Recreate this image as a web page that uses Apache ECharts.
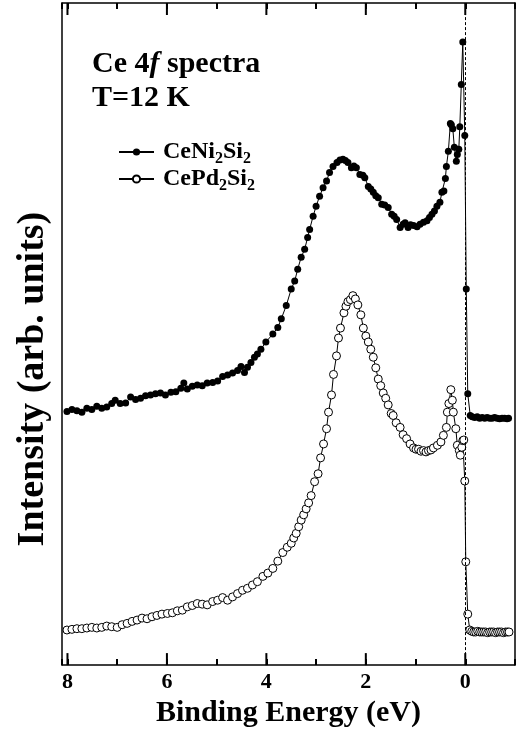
<!DOCTYPE html>
<html lang="en">
<head>
  <meta charset="UTF-8">
  <title>Ce 4f spectra</title>
  <script src="https://cdn.jsdelivr.net/npm/echarts@6/dist/echarts.min.js"></script>
  <style>
    body { margin: 0; background: #fff; }
  </style>
</head>
<body>
  <div id="chart" style="width: 519px;height: 733px;"></div>
  <script>
    const myChart = echarts.init(document.getElementById('chart'))

    // binding energy (eV) and intensity (arb. units)
    const niEnergy = [
      8.01, 7.91, 7.81, 7.71, 7.61, 7.51, 7.41, 7.31, 7.21, 7.11,
      7.04, 6.94, 6.83, 6.73, 6.63, 6.53, 6.43, 6.33, 6.23, 6.13,
      6.03, 5.92, 5.82, 5.72, 5.66, 5.59, 5.49, 5.39, 5.29, 5.19,
      5.08, 4.98, 4.88, 4.78, 4.68, 4.58, 4.51, 4.44, 4.38, 4.31,
      4.24, 4.18, 4.11, 4.01, 3.87, 3.77, 3.70, 3.60, 3.50, 3.43,
      3.37, 3.30, 3.23, 3.17, 3.13, 3.06, 3.00, 2.93, 2.86, 2.79,
      2.73, 2.66, 2.58, 2.52, 2.46, 2.41, 2.36, 2.29, 2.24, 2.19,
      2.12, 2.06, 2.02, 1.95, 1.90, 1.85, 1.80, 1.75, 1.68, 1.62,
      1.55, 1.48, 1.43, 1.38, 1.31, 1.25, 1.21, 1.15, 1.10, 1.04,
      0.97, 0.91, 0.84, 0.77, 0.72, 0.67, 0.62, 0.57, 0.51, 0.47,
      0.43, 0.40, 0.38, 0.34, 0.30, 0.28, 0.25, 0.22, 0.18, 0.16,
      0.13, 0.11, 0.08, 0.05, 0.01, -0.02, -0.05, -0.10, -0.14, -0.19,
      -0.24, -0.29, -0.34, -0.39, -0.44, -0.49, -0.54, -0.59, -0.64, -0.69,
      -0.74, -0.79, -0.84, -0.87
    ]
    const niIntensity = [
      38.3, 38.6, 38.4, 38.2, 38.8, 38.6, 39.1, 38.8, 39.0, 39.5,
      40.0, 39.5, 39.6, 40.5, 40.1, 40.3, 40.7, 40.8, 41.0, 41.1,
      40.8, 41.2, 41.3, 41.8, 42.6, 41.7, 42.1, 42.3, 42.2, 42.6,
      42.7, 42.9, 43.6, 43.8, 44.1, 44.5, 45.1, 44.2, 45.0, 45.7,
      46.5, 47.0, 47.7, 48.8, 50.0, 51.0, 52.3, 54.3, 56.8, 58.0,
      59.8, 61.6, 62.8, 64.6, 65.8, 67.8, 69.3, 70.8, 72.1, 73.1,
      74.4, 75.3, 75.9, 76.3, 76.4, 76.2, 75.9, 75.1, 75.4, 75.1,
      74.1, 74.0, 73.6, 72.3, 71.9, 71.4, 70.9, 70.6, 69.6, 69.5,
      69.1, 68.1, 67.8, 67.3, 66.1, 66.6, 66.8, 66.1, 66.5, 66.4,
      66.2, 66.6, 66.9, 67.1, 67.6, 68.1, 68.6, 69.3, 69.9, 71.4,
      71.6, 73.5, 75.3, 77.6, 81.8, 81.6, 81.0, 78.2, 76.1, 77.1,
      77.9, 81.3, 87.7, 94.1, 80.0, 56.8, 41.0, 37.7, 37.5, 37.4,
      37.5, 37.3, 37.4, 37.3, 37.4, 37.3, 37.3, 37.4, 37.3, 37.2,
      37.3, 37.3, 37.2, 37.3
    ]

    const pdEnergy = [
      8.01, 7.91, 7.81, 7.71, 7.61, 7.51, 7.41, 7.31, 7.21, 7.11,
      7.00, 6.90, 6.80, 6.70, 6.60, 6.50, 6.40, 6.30, 6.20, 6.10,
      5.99, 5.89, 5.79, 5.69, 5.59, 5.49, 5.39, 5.29, 5.19, 5.08,
      4.98, 4.88, 4.78, 4.68, 4.58, 4.48, 4.38, 4.28, 4.18, 4.07,
      3.97, 3.87, 3.77, 3.67, 3.58, 3.50, 3.45, 3.40, 3.35, 3.30,
      3.25, 3.20, 3.15, 3.10, 3.03, 2.96, 2.91, 2.85, 2.79, 2.75,
      2.69, 2.65, 2.59, 2.55, 2.51, 2.44, 2.40, 2.36, 2.31, 2.26,
      2.21, 2.16, 2.10, 2.05, 2.00, 1.95, 1.90, 1.85, 1.80, 1.75,
      1.70, 1.65, 1.60, 1.55, 1.49, 1.45, 1.39, 1.31, 1.25, 1.18,
      1.11, 1.04, 0.99, 0.94, 0.89, 0.84, 0.79, 0.74, 0.69, 0.64,
      0.56, 0.49, 0.44, 0.38, 0.36, 0.33, 0.29, 0.26, 0.24, 0.19,
      0.16, 0.12, 0.10, 0.07, 0.05, 0.03, 0.01, -0.01, -0.05, -0.09,
      -0.13, -0.17, -0.21, -0.25, -0.29, -0.33, -0.37, -0.41, -0.45, -0.49,
      -0.53, -0.57, -0.61, -0.65, -0.69, -0.73, -0.77, -0.81, -0.85, -0.88
    ]
    const pdIntensity = [
      5.3, 5.4, 5.5, 5.5, 5.6, 5.7, 5.6, 5.7, 5.9, 5.8,
      5.7, 6.1, 6.3, 6.6, 6.8, 7.1, 7.0, 7.3, 7.5, 7.7,
      7.8, 7.9, 8.2, 8.3, 8.8, 9.0, 9.3, 9.2, 9.1, 9.6,
      9.8, 10.2, 9.8, 10.3, 10.8, 11.3, 11.6, 12.1, 12.6, 13.4,
      13.9, 14.6, 15.7, 17.0, 17.8, 18.4, 19.2, 19.9, 20.9, 21.9,
      22.7, 23.6, 24.5, 25.6, 27.7, 28.9, 31.3, 33.4, 35.7, 38.2,
      40.8, 43.9, 46.7, 49.4, 50.9, 53.2, 54.2, 54.9, 55.2, 55.8,
      55.3, 54.4, 52.9, 50.9, 49.7, 48.8, 47.7, 46.5, 44.9, 43.2,
      42.2, 41.1, 40.3, 39.3, 38.0, 37.7, 36.6, 35.9, 34.8, 34.2,
      33.4, 32.8, 32.6, 32.6, 32.3, 32.4, 32.2, 32.4, 32.5, 32.8,
      33.2, 33.7, 34.7, 35.9, 38.2, 39.5, 41.6, 40.0, 38.2, 35.7,
      33.2, 32.4, 31.7, 32.9, 33.9, 34.0, 27.8, 15.6, 7.7, 5.3,
      5.1, 5.0, 5.0, 5.1, 5.0, 5.0, 5.0, 5.0, 4.9, 5.0,
      5.0, 5.0, 4.9, 5.0, 5.0, 5.0, 4.9, 5.0, 5.0, 5.0
    ]

    const majorTicks = [0, 2, 4, 6, 8]

    const serif = '"Liberation Serif", "Times New Roman", serif'
    const xMin = -1
    const xMax = 8.11
    const yMax = 100

    const toPairs = (xs, ys) => xs.map((x, i) => [x, ys[i]])
    const frame = { show: true, onZero: false, lineStyle: { color: '#000', width: 1.5 } }

    // integer ticks from the axis itself (min is a multiple of the interval)
    const makeX = (position, withLabel) => ({
      type: 'value',
      position,
      min: xMin,
      max: xMax,
      interval: 1,
      inverse: true,
      axisLine: frame,
      splitLine: { show: false },
      axisTick: { show: true, inside: true, length: 6, lineStyle: { color: '#000', width: 2 } },
      axisLabel: withLabel ? {
        customValues: majorTicks,
        color: '#000',
        fontFamily: serif,
        fontWeight: 'bold',
        fontSize: 22,
        margin: 6
      } : { show: false }
    })

    const xBottom = makeX('bottom', true)
    xBottom.name = 'Binding Energy (eV)'
    xBottom.nameLocation = 'middle'
    xBottom.nameGap = 28
    xBottom.nameTextStyle = { color: '#000', fontFamily: serif, fontWeight: 'bold', fontSize: 30 }

    const makeY = (position) => ({
      type: 'value',
      position,
      min: 0,
      max: yMax,
      axisLine: frame,
      axisTick: { show: false },
      axisLabel: { show: false },
      splitLine: { show: false }
    })

    const yLeft = makeY('left')
    yLeft.name = 'Intensity (arb. units)'
    yLeft.nameLocation = 'middle'
    yLeft.nameRotate = 90
    yLeft.nameGap = 10
    yLeft.nameTextStyle = {
      color: '#000', fontFamily: serif, fontWeight: 'bold', fontSize: 38,
      padding: [0, 90, 0, 0]
    }

    const legendRich = {
      f: { fontFamily: serif, fontWeight: 'bold', fontSize: 24, lineHeight: 30, color: '#000', padding: [0, 0, 0, 4] },
      n: { fontFamily: serif, fontWeight: 'bold', fontSize: 24, lineHeight: 30, color: '#000' },
      s: { fontFamily: serif, fontWeight: 'bold', fontSize: 16, lineHeight: 14, color: '#000', verticalAlign: 'bottom' }
    }

    const option = {
      animation: false,
      backgroundColor: '#fff',
      grid: { left: 62, right: 4, top: 3, bottom: 66 },
      legend: {
        orient: 'vertical',
        left: 113,
        top: 135,
        itemWidth: 35,
        itemHeight: 9,
        itemGap: 0,
        data: ['CeNi2Si2', 'CePd2Si2'],
        formatter(name) {
          return '{f|' + name.slice(0, 2) + '}{n|' + name.slice(2, 4) + '}{s|2}{n|Si}{s|2}'
        },
        textStyle: { rich: legendRich }
      },
      xAxis: [xBottom, makeX('top', false)],
      yAxis: [yLeft, makeY('right')],
      graphic: [
        {
          id: 'title1',
          type: 'text',
          left: 92,
          top: 49,
          style: {
            text: '{b|Ce 4}{i|f}{b| spectra}',
            rich: {
              b: { fontFamily: serif, fontWeight: 'bold', fontSize: 30, fill: '#000' },
              i: { fontFamily: serif, fontWeight: 'bold', fontStyle: 'italic', fontSize: 30, fill: '#000' }
            }
          }
        },
        {
          id: 'title2',
          type: 'text',
          left: 92,
          top: 83,
          style: {
            text: 'T=12 K',
            font: 'bold 30px ' + serif,
            fill: '#000'
          }
        }
      ],
      series: [
        {
          name: 'CeNi2Si2',
          type: 'line',
          data: toPairs(niEnergy, niIntensity),
          symbol: 'circle',
          symbolSize: 7,
          showAllSymbol: true,
          itemStyle: { color: '#000' },
          lineStyle: { color: '#000', width: 1 },
          z: 3,
          markLine: {
            silent: true,
            symbol: 'none',
            label: { show: false },
            lineStyle: { color: '#000', width: 1, type: [3, 2] },
            data: [{ xAxis: 0 }]
          }
        },
        {
          name: 'CePd2Si2',
          type: 'line',
          data: toPairs(pdEnergy, pdIntensity),
          symbol: 'circle',
          symbolSize: 8,
          showAllSymbol: true,
          itemStyle: { color: '#fff', borderColor: '#000', borderWidth: 1 },
          lineStyle: { color: '#000', width: 1 },
          z: 2
        }
      ]
    }

    myChart.setOption(option)

    // longer ticks at the labelled energies, placed with the x scale
    const ticks = []
    majorTicks.forEach((v, i) => {
      const [px, yBottom] = myChart.convertToPixel({ xAxisIndex: 0, yAxisIndex: 0 }, [v, 0])
      const yTop = myChart.convertToPixel({ yAxisIndex: 0 }, yMax)
      ticks.push({
        id: 'tb' + i, type: 'line', z: 50,
        shape: { x1: px, y1: yBottom, x2: px, y2: yBottom - 12 },
        style: { stroke: '#000', lineWidth: 2 }
      })
      ticks.push({
        id: 'tt' + i, type: 'line', z: 50,
        shape: { x1: px, y1: yTop, x2: px, y2: yTop + 12 },
        style: { stroke: '#000', lineWidth: 2 }
      })
    })
    myChart.setOption({ graphic: ticks })
  </script>
</body>
</html>
